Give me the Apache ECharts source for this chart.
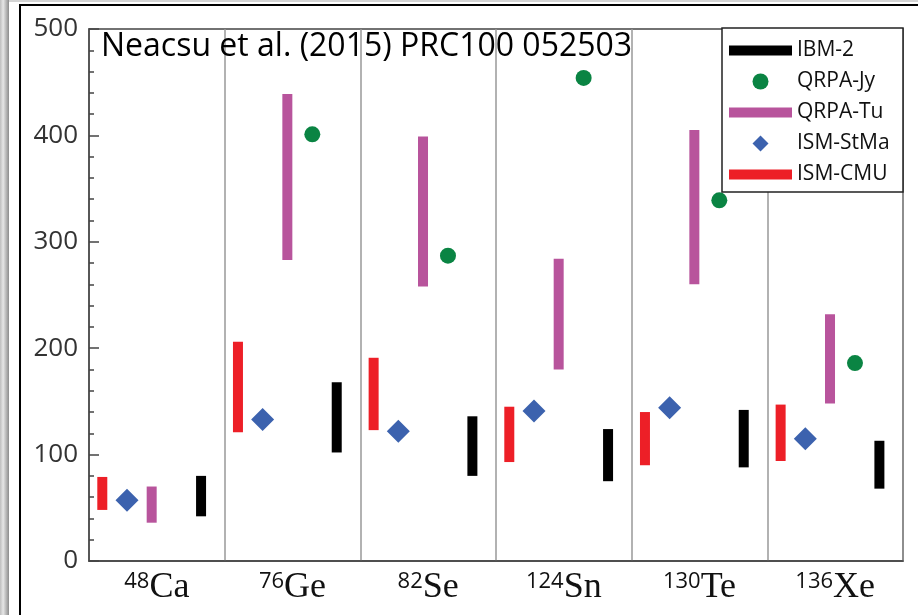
<!DOCTYPE html>
<html>
<head>
<meta charset="utf-8">
<script src="https://cdn.jsdelivr.net/npm/echarts@6/dist/echarts.min.js"></script>
<style>html,body{margin:0;padding:0;background:#fff;}#c{width:918px;height:615px;}</style>
</head>
<body>
<div id="c"></div>
<script>
// ---- data ----
const massNumbers = ['48', '76', '82', '124', '130', '136'];
const elements = ['Ca', 'Ge', 'Se', 'Sn', 'Te', 'Xe'];
const categories = ['48Ca', '76Ge', '82Se', '124Sn', '130Te', '136Xe'];
const cmuLow = [48, 121, 123, 93, 90, 94];
const cmuHigh = [79, 206, 191, 145, 140, 147];
const stma = [57, 133, 122, 141, 144, 115];
const tuLow = [36, 283, 258, 180, 260, 148];
const tuHigh = [70, 439, 399, 284, 405, 232];
const jy = [null, 401, 287, 454, 339, 186];
const ibmLow = [42, 102, 80, 75, 88, 68];
const ibmHigh = [80, 168, 136, 124, 142, 113];
const yTicks = [0, 100, 200, 300, 400, 500];

// ---- layout (offsets within a category band) ----
const OFF = { cmu: -0.402, stma: -0.22, tu: -0.038, jy: 0.146, ibm: 0.326 };
const COL = { cmu: '#ed1f27', stma: '#3c62ae', tu: '#b8549c', jy: '#0a8443', ibm: '#000000' };
const SANS = 'Open Sans';

function rangeData(lo, hi, off) {
  return categories.map((c, i) => [i + off, lo[i], hi[i]]);
}
function pointData(v, off) {
  return categories.map((c, i) => v[i] == null ? null : [i + off, v[i]]).filter(d => d);
}
function rangeSeries(name, lo, hi, off, color) {
  return {
    name: name, type: 'custom', xAxisIndex: 1, yAxisIndex: 0,
    itemStyle: { color: color },
    encode: { x: 0, y: [1, 2] },
    data: rangeData(lo, hi, off),
    renderItem: function (params, api) {
      const top = api.coord([api.value(0), api.value(2)]);
      const bot = api.coord([api.value(0), api.value(1)]);
      return { type: 'rect', shape: { x: top[0] - 5, y: top[1], width: 10, height: bot[1] - top[1] }, style: { fill: color } };
    },
    z: 2
  };
}

const chart = echarts.init(document.getElementById('c'), null, { renderer: 'canvas' });
// icons drawn inside a 63x16 box (the two leading moveTo points fix the box)
const lineIcon = 'path://M0,0M63,16M0,3L63,3L63,13L0,13Z';
const diamondIcon = 'path://M0,0M63,16M31.5,0L39.5,8L31.5,16L23.5,8Z';
const option = {
  animation: false,
  backgroundColor: '#ffffff',
  title: {
    text: 'Neacsu et al. (2015) PRC100 052503',
    left: 101, top: 31, padding: 0,
    textStyle: { fontFamily: SANS, fontSize: 32, fontWeight: 'normal', color: '#000' }
  },
  grid: { left: 89, right: 15, top: 29, bottom: 54, show: true, borderColor: '#444', borderWidth: 1.5, backgroundColor: 'transparent' },
  legend: {
    orient: 'vertical', left: 729, top: 40, padding: 0,
    itemWidth: 63, itemHeight: 16, itemGap: 10,
    textStyle: { fontFamily: SANS, fontSize: 21, color: '#111' },
    data: [
      { name: 'IBM-2', icon: lineIcon },
      { name: 'QRPA-Jy', icon: 'circle' },
      { name: 'QRPA-Tu', icon: lineIcon },
      { name: 'ISM-StMa', icon: diamondIcon },
      { name: 'ISM-CMU', icon: lineIcon }
    ],
    z: 10
  },
  xAxis: [
    {
      type: 'category', data: categories, boundaryGap: true,
      axisTick: { show: false },
      axisLine: { lineStyle: { color: '#444', width: 1.5 } },
      splitLine: { show: true, lineStyle: { color: '#999', width: 1.5 } },
      axisLabel: {
        margin: 10,
        formatter: function (v, idx) { return '{s|' + massNumbers[idx] + '}{e|' + elements[idx] + '}'; },
        rich: {
          s: { fontFamily: SANS, fontSize: 22, color: '#111', lineHeight: 22, verticalAlign: 'top' },
          e: { fontFamily: 'Liberation Serif', fontSize: 36, color: '#111', lineHeight: 34 }
        }
      }
    },
    { type: 'value', min: -0.5, max: 5.5, show: false }
  ],
  yAxis: {
    type: 'value', min: 0, max: 500, interval: 100,
    axisLine: { show: true, onZero: false, lineStyle: { color: '#444', width: 1.5 } },
    axisTick: { show: true, inside: true, length: 10, lineStyle: { color: '#444', width: 1.5 } },
    minorTick: { show: true, splitNumber: 5, length: 5, lineStyle: { color: '#444', width: 1.5 } },
    splitLine: { show: false },
    axisLabel: { margin: 11, fontFamily: SANS, fontSize: 26, color: '#333',
      formatter: function (v) { return yTicks.indexOf(v) >= 0 ? String(v) : ''; } }
  },
  graphic: [
    { type: 'rect', shape: { x: 0, y: 0, width: 9, height: 615 },
      style: { fill: new echarts.graphic.LinearGradient(0, 0, 1, 0, [
        { offset: 0, color: '#bdbdbd' }, { offset: 0.35, color: '#e6e6e6' }, { offset: 1, color: '#8c8c8c' }]) }, z: 100 },
    { type: 'rect', shape: { x: 9, y: 0, width: 909, height: 2 }, style: { fill: '#d4d4d4' }, z: 100 },
    { type: 'polyline', shape: { points: [[20, 615], [20, 5], [918, 5]] }, style: { stroke: '#000', lineWidth: 2, fill: null }, z: 100 },
    { type: 'rect', shape: { x: 722, y: 28, width: 181, height: 164 }, style: { fill: '#fff', stroke: '#222', lineWidth: 1.5 }, z: 5 }
  ],
  series: [
    rangeSeries('ISM-CMU', cmuLow, cmuHigh, OFF.cmu, COL.cmu),
    { name: 'ISM-StMa', type: 'scatter', xAxisIndex: 1, symbol: 'diamond', symbolSize: 23,
      itemStyle: { color: COL.stma, opacity: 1 }, data: pointData(stma, OFF.stma), z: 2 },
    rangeSeries('QRPA-Tu', tuLow, tuHigh, OFF.tu, COL.tu),
    { name: 'QRPA-Jy', type: 'scatter', xAxisIndex: 1, symbol: 'circle', symbolSize: 16,
      itemStyle: { color: COL.jy, opacity: 1 }, data: pointData(jy, OFF.jy), z: 2 },
    rangeSeries('IBM-2', ibmLow, ibmHigh, OFF.ibm, COL.ibm)
  ]
};
chart.setOption(option);
</script>
</body>
</html>
